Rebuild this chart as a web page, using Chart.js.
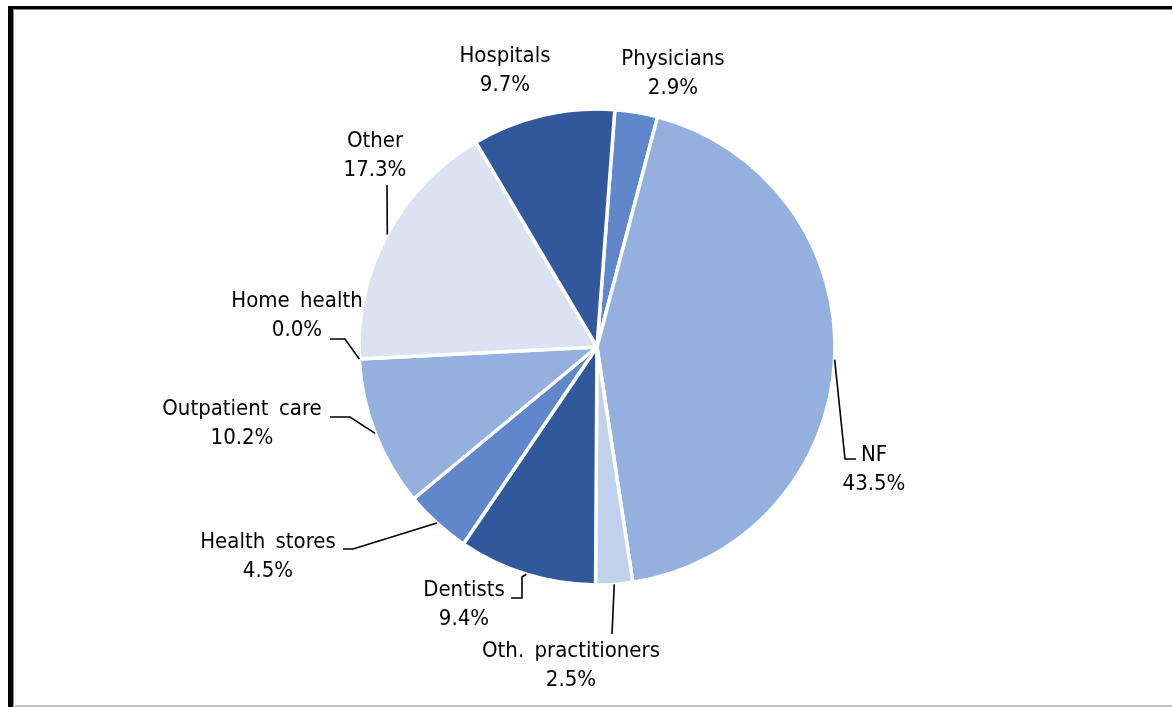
<!DOCTYPE html>
<html>
<head>
<meta charset="utf-8">
<script src="https://cdn.jsdelivr.net/npm/chart.js@4.4.1/dist/chart.umd.min.js"></script>
<style>
  html, body { margin: 0; padding: 0; background: #fff; }
  #wrap { position: relative; width: 1172px; height: 707px; overflow: hidden; }
  #frame {
    position: absolute; left: 8px; top: 6px; right: -10px; bottom: 0px;
    border-left: 5px solid #000; border-top: 3px solid #000;
    box-shadow: inset 1px 1px 0 #888;
  }
  #base { position: absolute; left: 13px; right: 0; top: 705px; height: 2px; background: #c4c4c4; }
  canvas { position: absolute; left: 0; top: 0; }
</style>
</head>
<body>
<div id="wrap">
  <div id="frame"></div>
  <div id="base"></div>
  <canvas id="chart" width="1172" height="707"></canvas>
</div>
<script>
// Spending shares by provider type (percent), clockwise from just right of the top
const categories = ['Physicians', 'NF', 'Oth. practitioners', 'Dentists', 'Health stores',
                    'Outpatient care', 'Home health', 'Other', 'Hospitals'];
const shares = [2.9, 43.5, 2.5, 9.4, 4.5, 10.2, 0.0, 17.3, 9.7];
const sliceColors = ['#6086CC', '#95B0DE', '#C1D1EC', '#31589B', '#6086CC',
                     '#95B0DE', '#95B0DE', '#DBE3F3', '#31589B'];

// Label block centres and leader-line bends, as offsets from the pie centre
const labelBlocks = [
  { dx: 76,   dy: -273, bends: null },
  { dx: 277,  dy: 123,  bends: [[248, 112], [259, 112]] },
  { dx: -26,  dy: 319,  bends: [[15, 287]] },
  { dx: -133, dy: 258,  bends: [[-75, 230], [-75, 251], [-86, 251]] },
  { dx: -329, dy: 210,  bends: [[-244, 202], [-254, 202]] },
  { dx: -355, dy: 77,   bends: [[-247, 70], [-267, 70]] },
  { dx: -300, dy: -31,  bends: [[-252, -8], [-267, -8]] },
  { dx: -222, dy: -191, bends: [[-210, -162]] },
  { dx: -92,  dy: -276, bends: null }
];

const FONT = '22px "DejaVu Sans Condensed", "DejaVu Sans", sans-serif';
const LINE_GAP = 29;

const pieLabels = {
  id: 'pieLabels',
  afterDatasetsDraw(chart) {
    const ctx = chart.ctx;
    const meta = chart.getDatasetMeta(0);
    ctx.save();
    ctx.font = FONT;
    if ('wordSpacing' in ctx) ctx.wordSpacing = '4px';
    ctx.fillStyle = '#000';
    ctx.strokeStyle = '#000';
    ctx.lineWidth = 1.6;
    ctx.textAlign = 'center';
    ctx.textBaseline = 'middle';
    meta.data.forEach((arc, i) => {
      const p = arc.getProps(['x', 'y', 'startAngle', 'endAngle', 'outerRadius'], true);
      const mid = (p.startAngle + p.endAngle) / 2;
      const cfg = labelBlocks[i];
      if (cfg.bends) {
        ctx.beginPath();
        ctx.moveTo(p.x + p.outerRadius * Math.cos(mid), p.y + p.outerRadius * Math.sin(mid));
        cfg.bends.forEach(b => ctx.lineTo(p.x + b[0], p.y + b[1]));
        ctx.stroke();
      }
      const bx = p.x + cfg.dx, by = p.y + cfg.dy;
      ctx.fillText(categories[i], bx, by - LINE_GAP / 2);
      ctx.fillText(shares[i].toFixed(1) + '%', bx, by + LINE_GAP / 2);
    });
    ctx.restore();
  }
};

new Chart(document.getElementById('chart'), {
  type: 'pie',
  data: {
    labels: categories,
    datasets: [{
      data: shares,
      backgroundColor: sliceColors,
      borderColor: '#ffffff',
      borderWidth: 3.5,
      hoverOffset: 0
    }]
  },
  options: {
    responsive: false,
    animation: false,
    rotation: 4.3,
    radius: 238,
    layout: { padding: { left: 359, right: 337, top: 109, bottom: 122 } },
    plugins: { legend: { display: false }, tooltip: { enabled: false } },
    events: []
  },
  plugins: [pieLabels]
});
</script>
</body>
</html>
